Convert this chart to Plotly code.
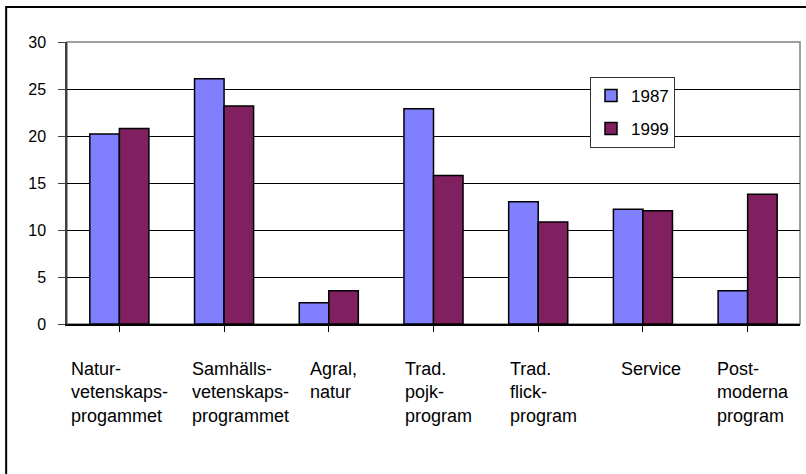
import plotly.graph_objects as go

categories = [
    "Natur-<br>vetenskaps-<br>progammet",
    "Samhälls-<br>vetenskaps-<br>programmet",
    "Agral,<br>natur",
    "Trad.<br>pojk-<br>program",
    "Trad.<br>flick-<br>program",
    "Service",
    "Post-<br>moderna<br>program",
]
series_names = ["1987", "1999"]
values_1987 = [20.2, 26.1, 2.25, 22.9, 13.0, 12.2, 3.55]
values_1999 = [20.8, 23.2, 3.55, 15.8, 10.85, 12.05, 13.8]
y_ticks = [0, 5, 10, 15, 20, 25, 30]

keys = list(range(len(categories)))
FONT = "Liberation Sans, Arial, sans-serif"

fig = go.Figure()
fig.add_trace(go.Bar(
    x=keys, y=values_1987, name=series_names[0],
    marker=dict(color="#8080FF", line=dict(color="black", width=1.5)),
    legendgroup="a",
))
fig.add_trace(go.Bar(
    x=keys, y=values_1999, name=series_names[1],
    marker=dict(color="#802060", line=dict(color="black", width=1.5)),
    legendgroup="b",
))

label_shift = [0, 16, 5, 5, 5, 8, 5]
annotations = []
for k, lab in enumerate(categories):
    annotations.append(dict(
        x=k, y=-0.118, xref="x", yref="paper",
        text=lab, showarrow=False, align="left",
        xanchor="center", yanchor="top", xshift=label_shift[k],
        font=dict(family=FONT, size=18, color="black"),
    ))

# Outer chart frame (extends past the right/bottom edge as in the reference)
frame = dict(type="rect", xref="paper", yref="paper",
             x0=-0.083, y0=-3, x1=3, y1=1.124,
             line=dict(color="black", width=2), fillcolor="rgba(0,0,0,0)", layer="above")
plot_border = dict(type="rect", xref="paper", yref="paper",
                   x0=0, y0=0, x1=1, y1=1,
                   line=dict(color="#808080", width=1.5), fillcolor="rgba(0,0,0,0)", layer="below")

fig.update_layout(
    width=806, height=474,
    margin=dict(l=67, r=6, t=42, b=150, pad=0),
    paper_bgcolor="white", plot_bgcolor="white",
    barmode="group", bargap=0.436, bargroupgap=0,
    font=dict(family=FONT, size=16, color="black"),
    shapes=[plot_border, frame],
    annotations=annotations,
    legend=dict(
        x=0.7135, y=0.876, xanchor="left", yanchor="top",
        bgcolor="white", bordercolor="#333333", borderwidth=1,
        font=dict(family=FONT, size=17, color="black"),
        tracegroupgap=8, traceorder="grouped", itemwidth=30,
    ),
    showlegend=True,
)
fig.update_xaxes(
    range=[-0.5, len(categories) - 0.5],
    tickmode="array", tickvals=keys, ticktext=[""] * len(keys),
    tickson="boundaries", ticks="outside", ticklen=6, tickcolor="black",
    showticklabels=False, showgrid=False,
    showline=True, linecolor="black", linewidth=1.5, zeroline=False,
)
fig.update_yaxes(
    range=[0, 30], tickmode="array", tickvals=y_ticks,
    ticks="outside", ticklen=7, tickcolor="#404040",
    showgrid=True, gridcolor="black", gridwidth=1,
    showline=True, linecolor="#404040", linewidth=1.5, zeroline=False,
    tickfont=dict(family=FONT, size=16, color="black"),
    ticklabelstandoff=9,
)

fig.write_html(
    "out.html",
    config={"displayModeBar": False},
    post_script="document.body.style.margin='0px';document.body.style.overflow='hidden';",
)
